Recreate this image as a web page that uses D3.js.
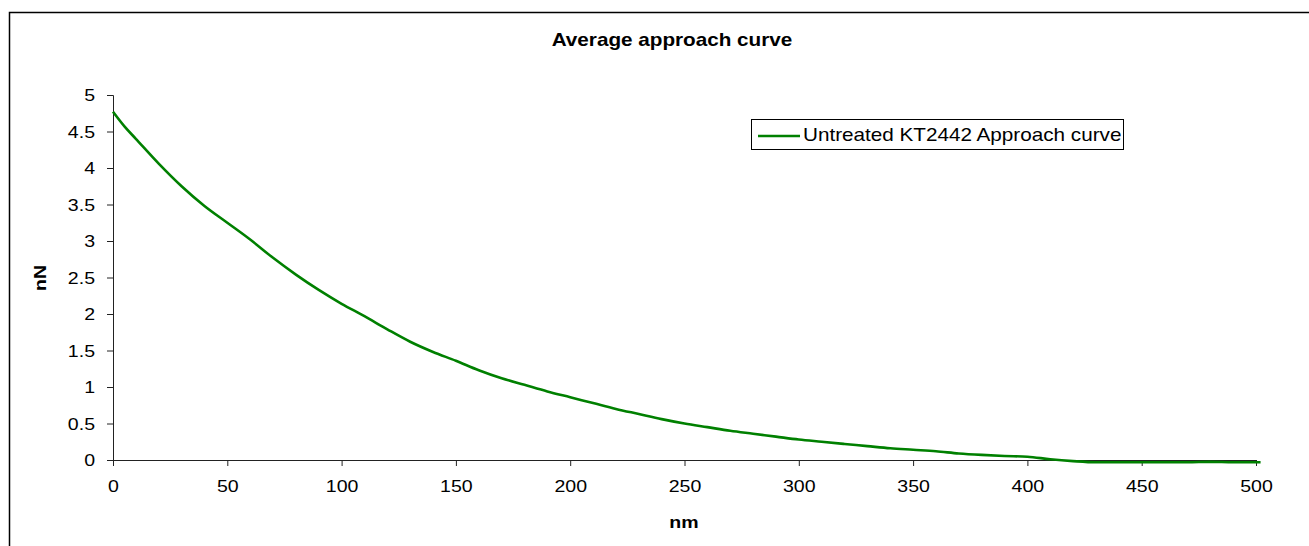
<!DOCTYPE html>
<html>
<head>
<meta charset="utf-8">
<script src="https://cdn.jsdelivr.net/npm/d3@7"></script>
<style>
  html, body { margin: 0; padding: 0; background: #fff; }
  svg { display: block; }
  text { font-family: "Liberation Sans", Arial, sans-serif; fill: #000; }
</style>
</head>
<body>
<svg id="chart" width="1309" height="546"></svg>
<script>
// ---- data ----
const distanceNm = [0, 5, 10, 20, 30, 40, 50, 60, 70, 80, 90, 100, 110, 120, 130, 140, 150, 160, 170, 180, 190,
  200, 210, 220, 230, 240, 250, 260, 270, 280, 290, 300, 310, 320, 330, 340, 350, 360, 370, 380, 390,
  400, 410, 420, 430, 440, 450, 460, 470, 480, 490, 500, 502];
const forceNN = [4.77, 4.57, 4.40, 4.06, 3.75, 3.48, 3.25, 3.02, 2.77, 2.54, 2.33, 2.14, 1.97, 1.79, 1.62, 1.48, 1.36, 1.23, 1.12, 1.03, 0.94,
  0.86, 0.78, 0.70, 0.63, 0.56, 0.50, 0.45, 0.40, 0.36, 0.32, 0.28, 0.25, 0.22, 0.19, 0.16, 0.14, 0.12, 0.09, 0.07, 0.055,
  0.045, 0.01, -0.015, -0.03, -0.03, -0.03, -0.03, -0.03, -0.025, -0.03, -0.03, -0.03];
const xTicks = [0, 50, 100, 150, 200, 250, 300, 350, 400, 450, 500];
const yTicks = [0, 0.5, 1, 1.5, 2, 2.5, 3, 3.5, 4, 4.5, 5];
const chartTitle = "Average approach curve";
const xLabel = "nm";
const yLabel = "nN";
const seriesName = "Untreated KT2442 Approach curve";

// ---- layout ----
const SX = 1.15; // horizontal stretch of the original rendering
const svg = d3.select("#chart");
const plot = { left: 113, right: 1256, top: 95, bottom: 460 };

const x = d3.scaleLinear().domain([0, 500]).range([plot.left, plot.right]);
const y = d3.scaleLinear().domain([0, 5]).range([plot.bottom, plot.top]);

// outer frame (cropped on the right and bottom)
svg.append("rect")
  .attr("x", 9.5).attr("y", 12.5)
  .attr("width", 1320).attr("height", 560)
  .attr("fill", "none").attr("stroke", "#000").attr("stroke-width", 1.5);

// title
svg.append("text")
  .attr("transform", `translate(672,46) scale(${SX},1)`)
  .attr("text-anchor", "middle")
  .style("font-size", "18px").style("font-weight", "bold")
  .text(chartTitle);

// axes
const xAxis = d3.axisBottom(x).tickValues(xTicks).tickSize(6).tickFormat(d3.format("d"));
const gx = svg.append("g").attr("transform", `translate(0,${plot.bottom})`).call(xAxis);
gx.select(".domain").attr("stroke", "#222");
gx.selectAll(".tick line").attr("stroke", "#222");
gx.selectAll(".tick text")
  .attr("y", 20).attr("dy", "0.71em")
  .attr("transform", `scale(${SX},1)`)
  .style("font-size", "17px").style("font-family", "'Liberation Sans', Arial, sans-serif");

const yAxis = d3.axisLeft(y).tickValues(yTicks).tickSize(6).tickFormat(d => String(d));
const gy = svg.append("g").attr("transform", `translate(${plot.left},0)`).call(yAxis);
gy.select(".domain").attr("stroke", "#222");
gy.selectAll(".tick line").attr("stroke", "#222");
gy.selectAll(".tick text")
  .attr("x", -18 / SX).attr("dy", "0.34em")
  .attr("transform", `scale(${SX},1)`)
  .style("font-size", "17px").style("font-family", "'Liberation Sans', Arial, sans-serif");

// axis titles
svg.append("text")
  .attr("transform", `translate(684,528) scale(${SX},1)`)
  .attr("text-anchor", "middle")
  .style("font-size", "17px").style("font-weight", "bold")
  .text(xLabel);
svg.append("text")
  .attr("transform", `translate(46,278) rotate(-90) scale(${SX},1)`)
  .attr("text-anchor", "middle")
  .style("font-size", "17px").style("font-weight", "bold")
  .text(yLabel);

// series line
const pts = distanceNm.map((d, i) => [d, forceNN[i]]);
const line = d3.line().x(d => x(d[0])).y(d => y(d[1])).curve(d3.curveMonotoneX);
svg.append("path")
  .datum(pts)
  .attr("fill", "none")
  .attr("stroke", "#008000")
  .attr("stroke-width", 2.6)
  .attr("stroke-linejoin", "round")
  .attr("d", line);

// legend
const lg = svg.append("g");
lg.append("rect")
  .attr("x", 751.5).attr("y", 119.5).attr("width", 372).attr("height", 30)
  .attr("fill", "#fff").attr("stroke", "#000").attr("stroke-width", 1);
lg.append("line")
  .attr("x1", 758).attr("x2", 800).attr("y1", 136).attr("y2", 136)
  .attr("stroke", "#008000").attr("stroke-width", 2.6);
lg.append("text")
  .attr("transform", `translate(803,141) scale(${SX},1)`)
  .style("font-size", "18px")
  .text(seriesName);
</script>
</body>
</html>
